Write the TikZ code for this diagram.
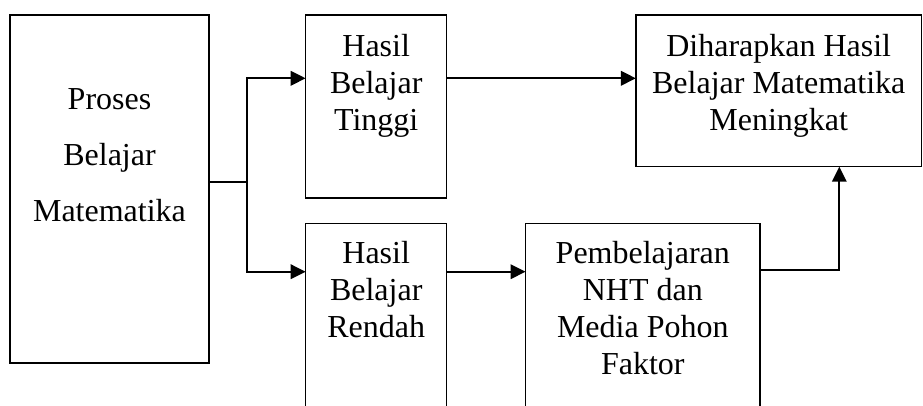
\documentclass[tikz,border=0pt]{standalone}
\usepackage{fontspec}
\setmainfont{Liberation Serif}
\usetikzlibrary{arrows.meta}
\tikzset{kotak/.style={draw=black, line width=0.55pt, inner sep=0pt, outer sep=0pt},
  tulisan/.style={align=center, inner sep=0pt, anchor=north, font=\fontsize{12}{13.8}\selectfont},
  garis/.style={line width=0.75pt},
  panah/.style={garis, -{Triangle[length=5.6pt, width=5.4pt]}}}

\begin{document}
\begin{tikzpicture}[x=0.375pt, y=-0.375pt]
\useasboundingbox (0, 0) rectangle (923, 405);
\clip (0, 0) rectangle (923, 405);
 % kotak
 \node[kotak, minimum width=74.6pt, minimum height=130.5pt] (proses) at (109.5, 189) {};
 \node[kotak, minimum width=52.9pt, minimum height=68.6pt] (tinggi) at (376.2, 106.5) {};
 \node[kotak, minimum width=107.1pt, minimum height=56.9pt] (harapan) at (778.7, 90.8) {};
 \node[kotak, minimum width=52.9pt, minimum height=73.8pt] (rendah) at (376.2, 321.7) {};
 \node[kotak, minimum width=87.9pt, minimum height=73.8pt] (nht) at (642.8, 321.7) {};
 % tulisan
 \node[tulisan, font=\fontsize{12}{21}\selectfont] at (109.5, 88) {Proses\\Belajar\\Matematika};
 \node[tulisan] at (376.2, 34) {Hasil\\Belajar\\Tinggi};
 \node[tulisan] at (778.7, 34) {Diharapkan Hasil\\Belajar Matematika\\Meningkat};
 \node[tulisan] at (376.2, 241) {Hasil\\Belajar\\Rendah};
 \node[tulisan] at (642.8, 241) {Pembelajaran\\NHT dan\\Media Pohon\\Faktor};
 % panah
 \coordinate (cabang) at (246.7, 181.7);
 \coordinate (belok) at (839.3, 270);
 \draw[garis] (proses.east |- cabang) -- (cabang);
 \draw[panah] (cabang) |- (tinggi.west |- 0, 78.3);
 \draw[panah] (cabang) |- (rendah.west |- 0, 271.7);
 \draw[panah] (tinggi.east |- 0, 78.3) -- (harapan.west |- 0, 78.3);
 \draw[panah] (rendah.east |- 0, 271.7) -- (nht.west |- 0, 271.7);
 \draw[panah] (nht.east |- belok) -- (belok) -- (harapan.south -| belok);
\end{tikzpicture}
\end{document}
